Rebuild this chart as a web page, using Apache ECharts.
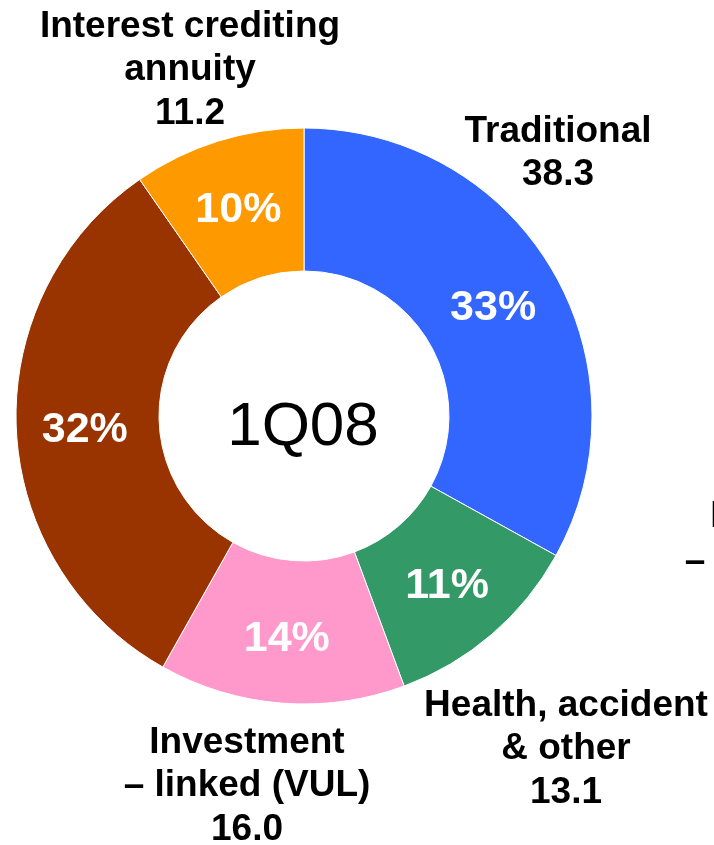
<!DOCTYPE html>
<html>
<head>
<meta charset="utf-8">
<script src="https://cdn.jsdelivr.net/npm/echarts@6/dist/echarts.min.js"></script>
<style>
  html, body { margin: 0; padding: 0; background: #fff; }
  #chart { width: 714px; height: 845px; }
</style>
</head>
<body>
<div id="chart"></div>
<script>
// 数据
const categories = [
  'Traditional',
  'Health, accident\n& other',
  'Investment\n– linked (VUL)',
  'Investment\n– linked (non-VUL)',
  'Interest crediting\nannuity'
];
const values = [38.3, 13.1, 16.0, 37.3, 11.2];
const colors = ['#3366FF', '#339966', '#FF99CC', '#993300', '#FF9900'];
const showOuterLabel = [true, true, true, false, true];
const periodLabel = '1Q08';

// 外部标签位置 (中心x, 顶部y)
const labelPos = [
  [558, 110],
  [566, 684],
  [247, 721],
  null,
  [190, 5]
];

const fontFamily = '"Liberation Sans", Arial, sans-serif';

const chart = echarts.init(document.getElementById('chart'));

const outerLabels = [];
categories.forEach((name, i) => {
  if (!showOuterLabel[i]) return;
  outerLabels.push({
    type: 'text',
    x: labelPos[i][0],
    y: labelPos[i][1],
    style: {
      text: name + '\n' + values[i].toFixed(1),
      fill: '#000',
      font: 'bold 37px ' + fontFamily,
      align: 'center',
      verticalAlign: 'top',
      lineHeight: 43.5
    }
  });
});

// 右侧被裁切的邻图标签
outerLabels.push({
  type: 'text',
  x: 808,
  y: 494,
  style: {
    text: categories[2],
    fill: '#000',
    font: 'bold 37px ' + fontFamily,
    align: 'center',
    verticalAlign: 'top',
    lineHeight: 45
  }
});

// 中心文字
outerLabels.push({
  type: 'text',
  x: 303,
  y: 428,
  style: {
    text: periodLabel,
    fill: '#000',
    font: '62px ' + fontFamily,
    align: 'center',
    verticalAlign: 'middle'
  }
});

chart.setOption({
  animation: false,
  backgroundColor: '#fff',
  graphic: outerLabels,
  series: [
    {
      type: 'pie',
      center: [304, 416],
      radius: [145, 288],
      startAngle: 90,
      clockwise: true,
      avoidLabelOverlap: false,
      itemStyle: {
        borderColor: '#fff',
        borderWidth: 1
      },
      label: {
        show: true,
        position: 'inside',
        color: '#fff',
        fontFamily: fontFamily,
        fontWeight: 'bold',
        fontSize: 43,
        offset: [0, 4],
        formatter: p => Math.round(p.percent) + '%'
      },
      labelLine: { show: false },
      emphasis: { disabled: true },
      data: categories.map((name, i) => ({
        name: name,
        value: values[i],
        itemStyle: { color: colors[i] }
      }))
    }
  ]
});
</script>
</body>
</html>
